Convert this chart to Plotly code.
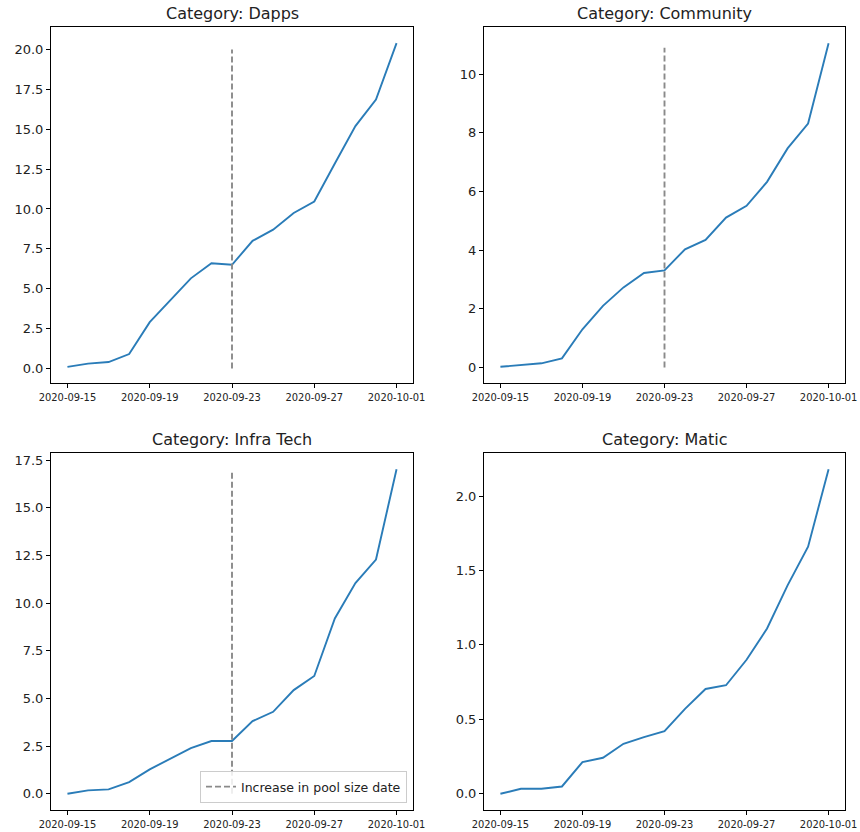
import plotly.graph_objects as go

dates = ["2020-09-15", "2020-09-16", "2020-09-17", "2020-09-18", "2020-09-19",
         "2020-09-20", "2020-09-21", "2020-09-22", "2020-09-23", "2020-09-24",
         "2020-09-25", "2020-09-26", "2020-09-27", "2020-09-28", "2020-09-29",
         "2020-09-30", "2020-10-01"]

dapps = [0.1, 0.3, 0.4, 0.9, 2.9, 4.3, 5.65, 6.6, 6.5, 8.0, 8.7, 9.75, 10.47,
         12.85, 15.2, 16.86, 20.4]
community = [0.02, 0.08, 0.14, 0.31, 1.3, 2.1, 2.73, 3.22, 3.31, 4.03, 4.35,
             5.11, 5.51, 6.33, 7.47, 8.32, 11.06]
infra_tech = [0.0, 0.18, 0.23, 0.61, 1.28, 1.84, 2.4, 2.77, 2.77, 3.81, 4.3,
              5.44, 6.18, 9.2, 11.06, 12.29, 17.03]
matic = [0.0, 0.034, 0.034, 0.049, 0.213, 0.242, 0.336, 0.381, 0.42, 0.57,
         0.704, 0.729, 0.90, 1.11, 1.40, 1.66, 2.18]

titles = ["Category: Dapps", "Category: Community", "Category: Infra Tech", "Category: Matic"]
series = [dapps, community, infra_tech, matic]
pool_date = "2020-09-23"
pool_line_top = [20.0, 10.9, 16.85, None]
legend_label = "Increase in pool size date"

y_ticks = [
    [0, 2.5, 5, 7.5, 10, 12.5, 15, 17.5, 20],
    [0, 2, 4, 6, 8, 10],
    [0, 2.5, 5, 7.5, 10, 12.5, 15, 17.5],
    [0, 0.5, 1.0, 1.5, 2.0],
]
y_tickfmt = [".1f", "d", ".1f", ".1f"]
x_ticks = ["2020-09-15", "2020-09-19", "2020-09-23", "2020-09-27", "2020-10-01"]

W, H = 860, 832
# axes pixel boxes: (left, right, top, bottom)
boxes = [(51, 413, 27, 383), (484, 845, 27, 383),
         (51, 413, 453, 810), (484, 845, 453, 810)]

BLUE = "#2a7cb8"
GREY = "#8a8a8a"
TXT = "#222222"

fig = go.Figure()
for i in range(4):
    n = "" if i == 0 else str(i + 1)
    xa, ya = "x" + n, "y" + n
    vals = series[i]
    fig.add_trace(go.Scatter(x=dates, y=vals, mode="lines",
                             line=dict(color=BLUE, width=1.9),
                             xaxis=xa, yaxis=ya, showlegend=False))
    top = pool_line_top[i]
    if top is not None:
        fig.add_trace(go.Scatter(x=[pool_date, pool_date], y=[0, top], mode="lines",
                                 line=dict(color=GREY, width=1.9, dash="6px,3px"),
                                 name=legend_label, xaxis=xa, yaxis=ya,
                                 showlegend=(i == 2)))
    l, r, t, b = boxes[i]
    vmax = max(vals + ([top] if top is not None else []))
    vmin = min(vals)
    pad = (vmax - vmin) * 0.05
    fig.layout["xaxis" + n] = dict(
        domain=[l / W, r / W], anchor=ya, type="date", automargin=False,
        range=["2020-09-14 04:48", "2020-10-01 19:12"],
        tickvals=x_ticks, tickformat="%Y-%m-%d",
        tickfont=dict(size=11, color=TXT, family="DejaVu Sans Condensed, DejaVu Sans"),
        ticks="outside", ticklen=4, tickcolor="black", tickwidth=1,
        showline=True, linecolor="black", linewidth=1, mirror=True,
        showgrid=False, zeroline=False)
    fig.layout["yaxis" + n] = dict(
        domain=[(H - b) / H, (H - t) / H], anchor=xa, automargin=False,
        range=[vmin - pad, vmax + pad],
        tickvals=y_ticks[i], tickformat=y_tickfmt[i],
        tickfont=dict(size=13, color=TXT),
        ticks="outside", ticklen=4, tickcolor="black", tickwidth=1,
        showline=True, linecolor="black", linewidth=1, mirror=True,
        showgrid=False, zeroline=False)
    fig.add_annotation(text=titles[i], xref="paper", yref="paper",
                       x=(l + r) / 2 / W, y=(H - t) / H, xanchor="center",
                       yanchor="bottom", yshift=2, showarrow=False,
                       font=dict(size=16, color=TXT))

l, r, t, b = boxes[2]
fig.update_layout(
    width=W, height=H, margin=dict(l=0, r=0, t=0, b=0, autoexpand=False),
    paper_bgcolor="white", plot_bgcolor="white",
    font=dict(family="DejaVu Sans", color=TXT),
    legend=dict(x=(r - 6) / W, y=(H - b + 7) / H, xanchor="right", yanchor="bottom",
                bgcolor="rgba(255,255,255,0.85)", bordercolor="#cccccc", borderwidth=1,
                font=dict(size=12.5, color=TXT), itemwidth=30,
                tracegroupgap=0),
    showlegend=True,
)

fig.write_html("out.html", config={"displayModeBar": False},
               post_script="document.body.style.margin='0px';document.body.style.overflow='hidden';")
